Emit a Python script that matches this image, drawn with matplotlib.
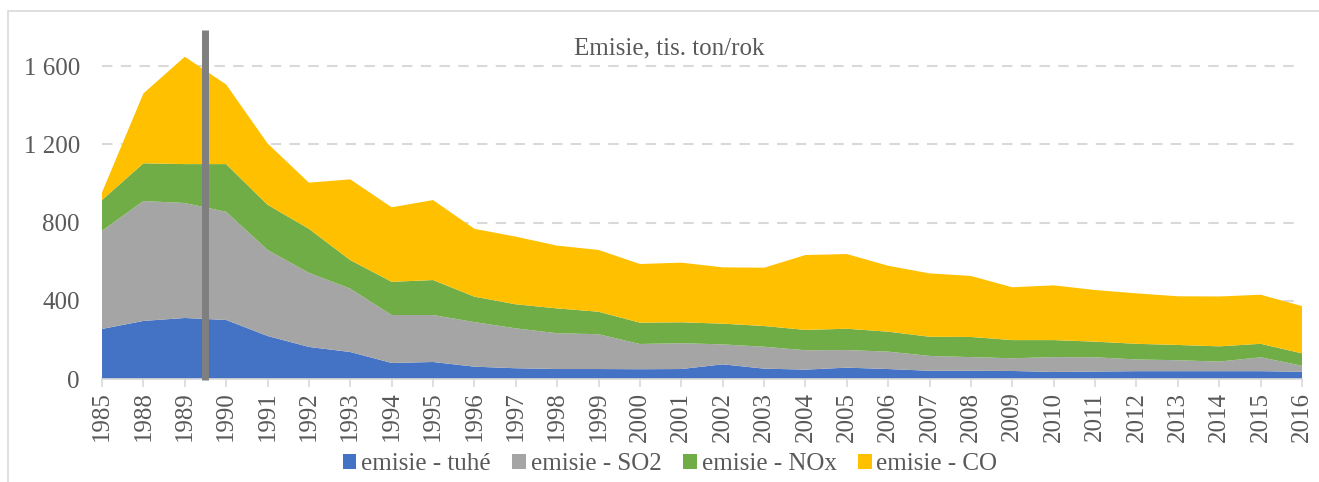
import numpy as np
import matplotlib
matplotlib.use("Agg")
import matplotlib.pyplot as plt
from matplotlib.patches import Patch, Rectangle

years = ["1985", "1988", "1989"] + [str(y) for y in range(1990, 2017)]

tuhe = [256, 297, 312, 302, 220, 164, 138, 82, 87, 63, 55, 51, 51, 50, 51, 75, 53, 48, 58,
        51, 42, 42, 41, 36, 38, 40, 40, 40, 40, 37]
so2 = [502, 613, 588, 553, 440, 379, 324, 245, 240, 228, 204, 183, 178, 129, 132, 102, 112, 99, 90,
       89, 76, 70, 65, 76, 73, 60, 56, 49, 71, 31]
nox = [157, 193, 199, 244, 231, 225, 146, 170, 179, 130, 123, 127, 115, 109, 107, 106, 106, 104, 109,
       102, 98, 103, 93, 87, 80, 80, 78, 78, 69, 63]
co = [39, 357, 549, 407, 314, 236, 413, 381, 409, 347, 346, 321, 316, 300, 305, 288, 298, 383, 382,
      337, 324, 312, 270, 280, 264, 258, 249, 255, 251, 242]

series_names = ["emisie - tuhé", "emisie - SO2", "emisie - NOx", "emisie - CO"]
colors = ["#4472C4", "#A5A5A5", "#70AD47", "#FFC000"]
yticks = [0, 400, 800, 1200, 1600]
title = "Emisie, tis. ton/rok"

plt.rcParams['font.family'] = ['Liberation Serif', 'DejaVu Serif']
txt = "#595959"
fs = 18

fig = plt.figure(figsize=(13.19, 4.82), dpi=100)
fig.patches.append(Rectangle((8 / 1319, -0.1), 1.2, 1 - 11 / 482 + 0.1, transform=fig.transFigure,
                             fill=False, edgecolor="#d9d9d9", linewidth=1.2))
ax = fig.add_axes([102 / 1319, 103 / 482, 1200 / 1319, 352 / 482])

x = np.arange(len(years))
ax.stackplot(x, tuhe, so2, nox, co, colors=colors, linewidth=0)
ax.set_xlim(0, len(years) - 1)
ax.set_ylim(0, 1800)

ax.set_yticks(yticks)
ax.set_yticklabels([f"{v:,}".replace(",", " ") for v in yticks])
ax.set_xticks(x)
ax.set_xticklabels(years, rotation=90)
ax.tick_params(axis='y', length=0, labelsize=fs, colors=txt, pad=16)
ax.tick_params(axis='x', length=6, width=1.2, color="#d9d9d9", labelsize=fs, labelcolor=txt, pad=3)

for yv in yticks[1:]:
    ax.axhline(yv, color="#d9d9d9", linewidth=1.5, linestyle=(0, (5, 4)), zorder=0)
for s in ["top", "right", "left"]:
    ax.spines[s].set_visible(False)
ax.spines["bottom"].set_color("#d9d9d9")
ax.spines["bottom"].set_linewidth(1.2)

# separating vertical line between 1989 and 1990
ax.plot([2.5, 2.5], [-5, 1785], color="#7F7F7F", linewidth=5, solid_capstyle="butt", clip_on=False, zorder=5)

ax.text(0.473, 0.94, title, transform=ax.transAxes, ha="center", va="center", fontsize=fs, color=txt)

handles = [Patch(facecolor=c, edgecolor='none') for c in colors]
fig.legend(handles, series_names, loc="center", bbox_to_anchor=(670 / 1319, 1 - 464 / 482), ncol=4,
           frameon=False, fontsize=fs, labelcolor=txt, handlelength=0.55, handleheight=0.55,
           handletextpad=0.2, columnspacing=0.85)

fig.savefig("out.png", dpi=100)
